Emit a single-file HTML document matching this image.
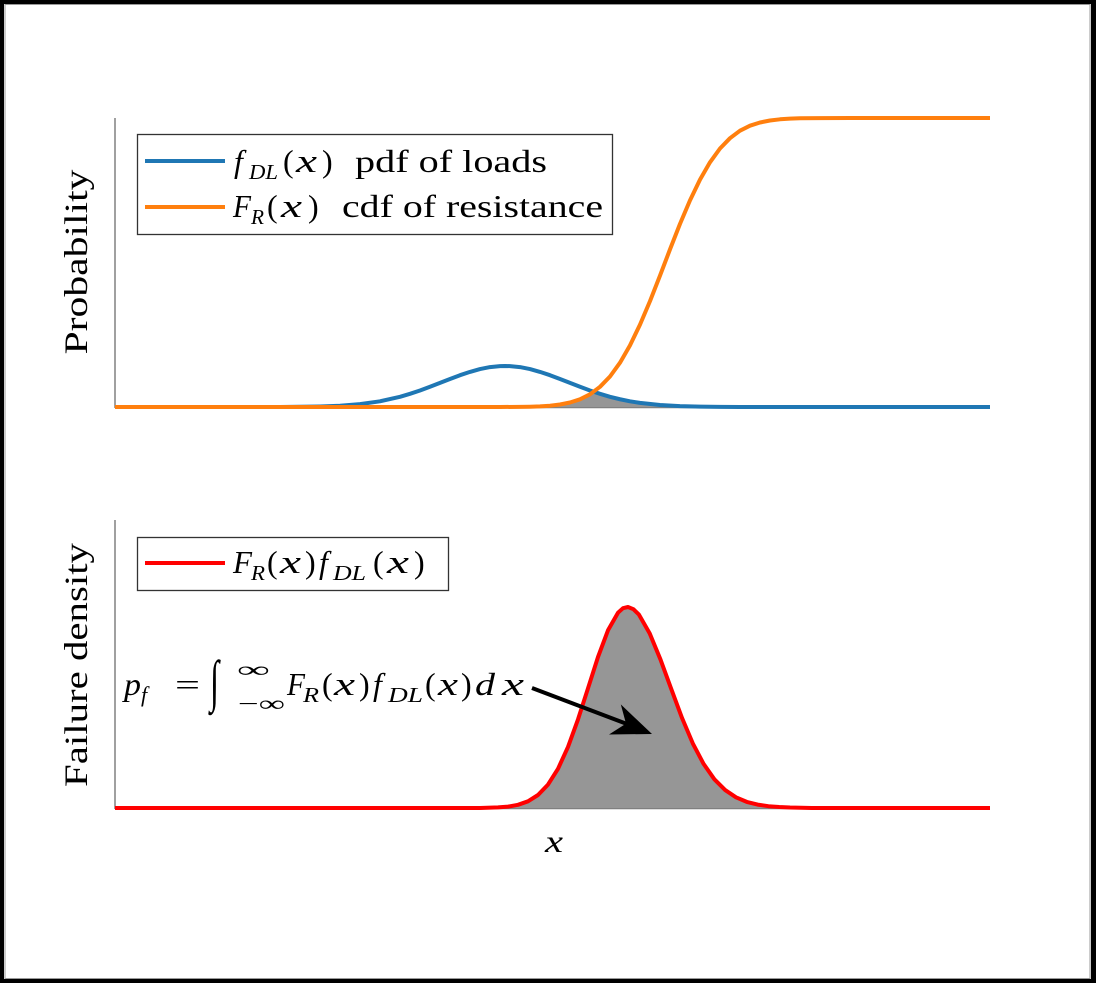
<!DOCTYPE html>
<html>
<head>
<meta charset="utf-8">
<style>
  html,body{margin:0;padding:0;background:#fff;}
  svg{display:block;}
  text{font-family:"Liberation Serif","DejaVu Serif",serif;fill:#000;}
  .it{font-style:italic;}
</style>
</head>
<body>
<svg width="1096" height="983" viewBox="0 0 1096 983" xmlns="http://www.w3.org/2000/svg">
  <rect x="0" y="0" width="1096" height="983" fill="#fff"/>
  <!-- outer frame -->
  <rect x="5" y="4.5" width="1085" height="974" fill="none" stroke="#999" stroke-width="1"/>
  <rect x="0" y="0" width="1096" height="4" fill="#000"/>
  <rect x="0" y="979" width="1096" height="4" fill="#000"/>
  <rect x="0" y="0" width="4" height="983" fill="#000"/>
  <rect x="1091" y="0" width="5" height="983" fill="#000"/>

  <!-- ===== TOP AXES ===== -->
  <line x1="115" y1="118" x2="115" y2="408" stroke="#808080" stroke-width="1.5"/>
  <line x1="115" y1="407.5" x2="990" y2="407.5" stroke="#808080" stroke-width="1.5"/>
  <polygon fill="#969696" points="540,407 540,406.35 550,405.7 560,404.5 570,402.5 580,399.3 590,394.3 595,390.8 600,393.8 610,396.8 620,399.25 630,401.3 640,402.9 660,405 680,406.1 700,406.66 700,407"/>
  <polyline fill="none" stroke="#1f77b4" stroke-width="4" stroke-linejoin="round"
    points="115,407 280,407 300,406.8 320,406.45 340,405.7 360,404.1 380,401.3 400,396.8 410,393.8 420,390.5 430,386.8 440,382.9 450,379 460,375.2 470,371.9 480,369.1 490,367.1 500,366.1 505,366 510,366.1 520,367.1 530,369.1 540,371.9 550,375.2 560,379 570,382.9 580,386.8 590,390.5 600,393.8 610,396.8 620,399.25 630,401.3 640,402.9 660,405 680,406.1 700,406.66 720,406.88 740,407 990,407"/>
  <polyline fill="none" stroke="#ff7f0e" stroke-width="4" stroke-linejoin="round"
    points="115,407 500,407 520,406.86 530,406.7 540,406.35 550,405.7 560,404.5 570,402.5 580,399.3 590,394.3 600,386.8 610,376.5 620,362.7 630,345.4 640,324.6 650,301.1 660,275.6 670,249.4 680,223.9 690,200.4 700,179.6 710,162.3 720,148.5 730,138.2 740,130.7 750,125.7 760,122.5 770,120.5 780,119.3 790,118.65 800,118.3 820,118.1 850,118 990,118"/>

  <!-- top legend -->
  <rect x="137.5" y="134.5" width="475" height="100" fill="#fff" stroke="#333" stroke-width="1.3"/>
  <line x1="145" y1="161" x2="225" y2="161" stroke="#1f77b4" stroke-width="4"/>
  <line x1="145" y1="207" x2="225" y2="207" stroke="#ff7f0e" stroke-width="4"/>
  <text class="it" x="234" y="172" font-size="32">f</text>
  <text class="it" x="249" y="179" font-size="21" textLength="29" lengthAdjust="spacingAndGlyphs">DL</text>
  <text x="283" y="172" font-size="32">(</text>
  <text class="it" x="296" y="172" font-size="33" textLength="21" lengthAdjust="spacingAndGlyphs">x</text>
  <text x="322" y="172" font-size="32">)</text>
  <text x="355" y="172" font-size="32" textLength="192" lengthAdjust="spacingAndGlyphs">pdf of loads</text>

  <text class="it" x="233" y="217" font-size="32" textLength="18" lengthAdjust="spacingAndGlyphs">F</text>
  <text class="it" x="251" y="224" font-size="21" textLength="13" lengthAdjust="spacingAndGlyphs">R</text>
  <text x="267" y="217" font-size="32">(</text>
  <text class="it" x="281" y="217" font-size="33" textLength="21" lengthAdjust="spacingAndGlyphs">x</text>
  <text x="308" y="217" font-size="32">)</text>
  <text x="342" y="217" font-size="32" textLength="261" lengthAdjust="spacingAndGlyphs">cdf of resistance</text>

  <!-- y label top -->
  <text x="0" y="0" font-size="33" text-anchor="middle" textLength="185" lengthAdjust="spacingAndGlyphs" transform="translate(87,262) rotate(-90)">Probability</text>

  <!-- ===== BOTTOM AXES ===== -->
  <line x1="115" y1="520" x2="115" y2="809" stroke="#808080" stroke-width="1.5"/>
  <line x1="115" y1="808.5" x2="990" y2="808.5" stroke="#808080" stroke-width="1.5"/>
  <polygon fill="#969696" points="498,808 498,807.4 508,806.6 518,804.8 528,801.3 538,795 548,784.6 558,768.8 568,746.9 578,719.4 588,688.3 598,657 608,630.3 618,612.7 623,608.2 628,607 633.4,609.2 638.8,614.4 649.6,633.2 660.4,659.3 671.2,688.8 682,717.9 692.8,743.4 703.6,763.9 714.4,779.3 725.2,790.1 736,797.3 746.8,801.9 757.6,804.6 768.4,806.2 779.2,807 790,807.5 811.6,808"/>
  <polyline fill="none" stroke="#ff0000" stroke-width="4" stroke-linejoin="round"
    points="115,808 480,808 498,807.4 508,806.6 518,804.8 528,801.3 538,795 548,784.6 558,768.8 568,746.9 578,719.4 588,688.3 598,657 608,630.3 618,612.7 623,608.2 628,607 633.4,609.2 638.8,614.4 649.6,633.2 660.4,659.3 671.2,688.8 682,717.9 692.8,743.4 703.6,763.9 714.4,779.3 725.2,790.1 736,797.3 746.8,801.9 757.6,804.6 768.4,806.2 779.2,807 790,807.5 811.6,808 990,808"/>

  <!-- bottom legend -->
  <rect x="137.5" y="537.5" width="311" height="53" fill="#fff" stroke="#333" stroke-width="1.3"/>
  <line x1="145" y1="563" x2="225" y2="563" stroke="#ff0000" stroke-width="4"/>
  <text class="it" x="233" y="573" font-size="32" textLength="19" lengthAdjust="spacingAndGlyphs">F</text>
  <text class="it" x="251" y="580" font-size="21" textLength="14" lengthAdjust="spacingAndGlyphs">R</text>
  <text x="267" y="573" font-size="32">(</text>
  <text class="it" x="280" y="573" font-size="33" textLength="21" lengthAdjust="spacingAndGlyphs">x</text>
  <text x="305" y="573" font-size="32">)</text>
  <text class="it" x="319" y="573" font-size="32">f</text>
  <text class="it" x="333" y="580" font-size="21" textLength="33" lengthAdjust="spacingAndGlyphs">DL</text>
  <text x="373" y="573" font-size="32">(</text>
  <text class="it" x="387" y="573" font-size="33" textLength="22" lengthAdjust="spacingAndGlyphs">x</text>
  <text x="414" y="573" font-size="32">)</text>

  <!-- annotation -->
  <text class="it" x="124" y="695" font-size="32" textLength="17" lengthAdjust="spacingAndGlyphs">p</text>
  <text class="it" x="141" y="702" font-size="22">f</text>
  <text x="175" y="695" font-size="31" textLength="25" lengthAdjust="spacingAndGlyphs">=</text>
  <text x="0" y="0" font-size="30" transform="translate(210,700) scale(1.1,1.9)">∫</text>
  <text x="237" y="677" font-size="22" textLength="33" lengthAdjust="spacingAndGlyphs">∞</text>
  <text x="238" y="711" font-size="22" textLength="47" lengthAdjust="spacingAndGlyphs">−∞</text>
  <text class="it" x="287" y="695" font-size="32" textLength="18" lengthAdjust="spacingAndGlyphs">F</text>
  <text class="it" x="303" y="702" font-size="21" textLength="16" lengthAdjust="spacingAndGlyphs">R</text>
  <text x="322" y="695" font-size="32">(</text>
  <text class="it" x="334" y="695" font-size="33" textLength="21" lengthAdjust="spacingAndGlyphs">x</text>
  <text x="359" y="695" font-size="32">)</text>
  <text class="it" x="373" y="695" font-size="32">f</text>
  <text class="it" x="388" y="702" font-size="21" textLength="35" lengthAdjust="spacingAndGlyphs">DL</text>
  <text x="425" y="695" font-size="32">(</text>
  <text class="it" x="438" y="695" font-size="33" textLength="20" lengthAdjust="spacingAndGlyphs">x</text>
  <text x="461" y="695" font-size="32">)</text>
  <text class="it" x="475" y="695" font-size="32" textLength="20" lengthAdjust="spacingAndGlyphs">d</text>
  <text class="it" x="502" y="695" font-size="33" textLength="22" lengthAdjust="spacingAndGlyphs">x</text>

  <!-- arrow -->
  <line x1="532" y1="688" x2="627" y2="724" stroke="#000" stroke-width="4"/>
  <polygon fill="#000" points="652,734 609,734.5 626,723.6 620.8,704.4"/>

  <!-- y label bottom -->
  <text x="0" y="0" font-size="33" text-anchor="middle" textLength="244" lengthAdjust="spacingAndGlyphs" transform="translate(87,665) rotate(-90)">Failure density</text>

  <!-- x label -->
  <text class="it" x="545" y="852" font-size="32" textLength="18" lengthAdjust="spacingAndGlyphs">x</text>
</svg>
</body>
</html>
